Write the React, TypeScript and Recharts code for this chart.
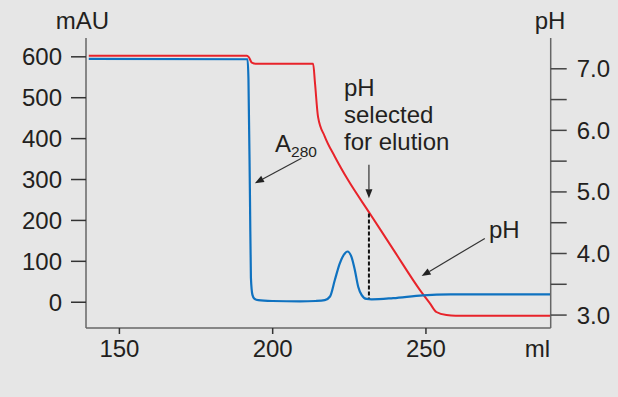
import { LineChart, Line, XAxis, YAxis, ReferenceLine } from "recharts";

// elution volume (ml) / absorbance (mAU)
const a280Ml = [140, 191.8, 192.1, 192.6, 192.9, 193.4, 194, 195.3, 200, 208.9, 214, 217, 218.7, 220.3, 221.9, 223.6, 224.4, 225.7, 226.8, 227.9, 229, 230.6, 232.3, 239.3, 249, 258, 290.6];
const a280Mau = [595, 594, 545, 250, 60, 18, 9, 5, 3, 2, 3, 5, 14, 55, 95, 120, 124, 111, 79, 38, 18, 8, 7, 10, 17, 19, 19];

// elution volume (ml) / pH
const phMl = [140, 191.6, 192.2, 193.2, 194.8, 213.2, 213.8, 214.8, 217, 220.2, 224.5, 231.7, 239.8, 248, 251.3, 253.4, 256.7, 259.7, 290.6];
const phValues = [7.21, 7.21, 7.19, 7.1, 7.08, 7.08, 6.77, 6.22, 5.9, 5.58, 5.2, 4.65, 4.03, 3.41, 3.19, 3.05, 3.0, 2.99, 2.99];

const xTicks = [150, 200, 250];
const mauTicks = [0, 100, 200, 300, 400, 500, 600];
const phTicks = [3, 3.5, 4, 4.5, 5, 5.5, 6, 6.5, 7];

const selectedMl = 231.4;

const a280Data = a280Ml.map((ml, i) => ({ ml, mau: a280Mau[i] }));
const phData = phMl.map((ml, i) => ({ ml, ph: phValues[i] }));

const FONT = "'Liberation Sans', Arial, sans-serif";
const TEXT = "#231f20";

const Arrow = (p: any) => {
  const { x1, y1, x2, y2 } = p;
  const a = Math.atan2(y2 - y1, x2 - x1);
  const L = 9;
  const W = 3.5;
  const bx = x2 - L * Math.cos(a);
  const by = y2 - L * Math.sin(a);
  const pts = `${x2},${y2} ${bx - W * Math.sin(a)},${by + W * Math.cos(a)} ${bx + W * Math.sin(a)},${by - W * Math.cos(a)}`;
  return (
    <g>
      <line x1={x1} y1={y1} x2={bx} y2={by} stroke="#333" strokeWidth={1.2} />
      <polygon points={pts} fill="#222" />
    </g>
  );
};

export default function App() {
  const tick = { fontSize: 24, fill: TEXT, fontFamily: FONT };
  return (
    <div style={{ position: "absolute", left: 0, top: 0, width: 618, height: 397, background: "#e6e6e6", fontFamily: FONT }}>
      <LineChart width={618} height={397} margin={{ top: 38, right: 0, bottom: 29, left: 0 }}>
        <XAxis
          type="number"
          dataKey="ml"
          domain={[139.1, 290.7]}
          ticks={xTicks}
          allowDataOverflow
          height={40}
          tickSize={6}
          tickMargin={6}
          tick={tick}
          stroke="#666"
          strokeWidth={1.5}
          tickLine={{ stroke: "#333", strokeWidth: 1.5 }}
        />
        <YAxis
          yAxisId="mau"
          type="number"
          domain={[-63, 646]}
          ticks={mauTicks}
          interval={0}
          allowDataOverflow
          width={86}
          tickSize={15}
          tickMargin={9}
          tick={tick}
          stroke="#666"
          strokeWidth={1.5}
          tickLine={{ stroke: "#333", strokeWidth: 1.5 }}
        />
        <YAxis
          yAxisId="ph"
          orientation="right"
          type="number"
          domain={[2.79, 7.5]}
          ticks={phTicks}
          interval={0}
          allowDataOverflow
          width={67.3}
          tickSize={16}
          tickMargin={10}
          tick={tick}
          tickFormatter={(v: number) => (Number.isInteger(v) ? v.toFixed(1) : "")}
          stroke="#666"
          strokeWidth={1.5}
          tickLine={{ stroke: "#444", strokeWidth: 1.5 }}
        />
        <Line yAxisId="ph" data={phData} dataKey="ph" type="monotone" stroke="#e8232a" strokeWidth={2} dot={false} isAnimationActive={false} />
        <Line yAxisId="mau" data={a280Data} dataKey="mau" type="monotone" stroke="#0f72c0" strokeWidth={2.2} dot={false} isAnimationActive={false} />
        <ReferenceLine
          yAxisId="mau"
          segment={[{ x: selectedMl, y: 217 }, { x: selectedMl, y: 10 }]}
          stroke="#111"
          strokeWidth={2}
          strokeDasharray="4 2"
        />
        <ReferenceLine yAxisId="mau" segment={[{ x: 209.4, y: 352 }, { x: 194.2, y: 291 }]} shape={Arrow} />
        <ReferenceLine yAxisId="mau" segment={[{ x: selectedMl, y: 336 }, { x: selectedMl, y: 254 }]} shape={Arrow} />
        <ReferenceLine yAxisId="mau" segment={[{ x: 269.2, y: 156 }, { x: 248.6, y: 64 }]} shape={Arrow} />
        <text x={82.5} y={29} textAnchor="middle" fontSize={24} fill={TEXT} fontFamily={FONT}>mAU</text>
        <text x={550} y={29} textAnchor="middle" fontSize={24} fill={TEXT} fontFamily={FONT}>pH</text>
        <text x={550} y={357} textAnchor="end" fontSize={24} fill={TEXT} fontFamily={FONT}>ml</text>
        <text x={275} y={152} fontSize={24} fill={TEXT} fontFamily={FONT}>
          A<tspan fontSize={15.5} dy={5}>280</tspan>
        </text>
        <text fontSize={24} fill={TEXT} fontFamily={FONT}>
          <tspan x={344} y={96}>pH</tspan>
          <tspan x={344} y={123}>selected</tspan>
          <tspan x={344} y={150}>for elution</tspan>
        </text>
        <text x={489} y={238} fontSize={24} fill={TEXT} fontFamily={FONT}>pH</text>
      </LineChart>
    </div>
  );
}
